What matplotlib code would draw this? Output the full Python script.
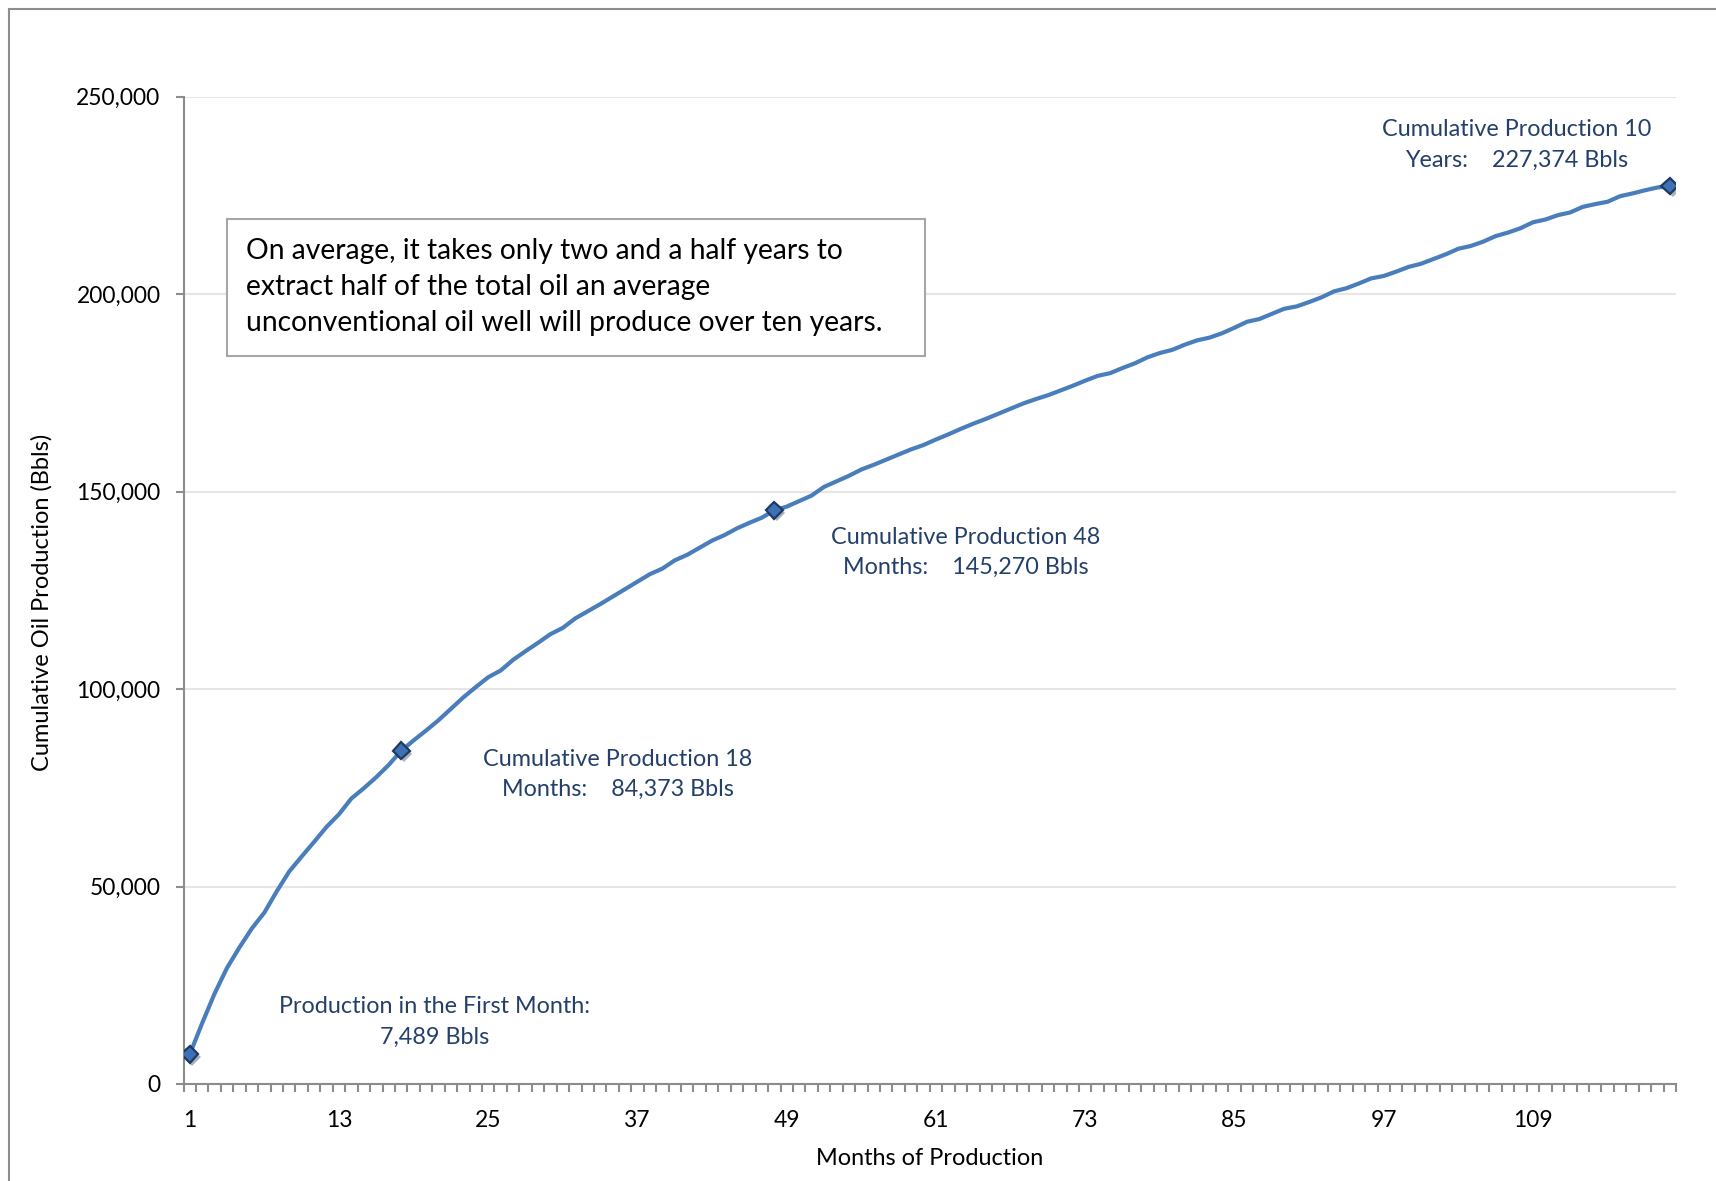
import numpy as np
import matplotlib
matplotlib.use("Agg")
import matplotlib.pyplot as plt
import matplotlib.patches as patches
import matplotlib.patheffects as pe
from matplotlib.ticker import FuncFormatter, FixedLocator

plt.rcParams['font.family'] = ['Lato', 'DejaVu Sans']

# Cumulative oil production of an average unconventional well, Bbls per month 1..120
months = np.arange(1, 121)
cumulative = [
    7489, 15400, 22900, 29400, 34600, 39400, 43400, 48800, 53800, 57600,
    61300, 65100, 68300, 72300, 74900, 77700, 80800, 84373, 87000, 89500,
    92100, 95000, 97900, 100500, 103000, 104700, 107400, 109600, 111700, 113900,
    115500, 117900, 119700, 121500, 123400, 125300, 127200, 129100, 130500, 132600,
    134000, 135800, 137600, 139000, 140700, 142100, 143400, 145270, 146200, 147600,
    149000, 151200, 152600, 154000, 155600, 156800, 158100, 159400, 160700, 161800,
    163200, 164500, 165900, 167200, 168400, 169700, 171000, 172300, 173400, 174400,
    175600, 176800, 178100, 179300, 180000, 181300, 182500, 184000, 185100, 185900,
    187200, 188300, 189000, 190100, 191500, 193000, 193700, 195000, 196300, 196900,
    198000, 199200, 200700, 201500, 202700, 204000, 204600, 205700, 206900, 207700,
    208900, 210100, 211500, 212200, 213300, 214700, 215600, 216700, 218200, 218900,
    220000, 220700, 222100, 222800, 223400, 224800, 225500, 226300, 227000, 227374,
]
marked_months = [1, 18, 48, 120]

y_ticks = [0, 50000, 100000, 150000, 200000, 250000]
x_label_months = [1, 13, 25, 37, 49, 61, 73, 85, 97, 109]

label_lines = [
    ("Production in the First Month:", "7,489 Bbls"),
    ("Cumulative Production 18", "Months:    84,373 Bbls"),
    ("Cumulative Production 48", "Months:    145,270 Bbls"),
    ("Cumulative Production 10", "Years:    227,374 Bbls"),
]
box_lines = [
    "On average, it takes only two and a half years to",
    "extract half of the total oil an average",
    "unconventional oil well will produce over ten years.",
]

W, H = 1716, 1181


def px(x, y):
    # pixel position in the reference -> figure fraction
    return x / W, 1 - y / H


fig = plt.figure(figsize=(W / 100, H / 100), dpi=100)
ax = fig.add_axes([183.5 / W, 1 - 1084 / H, (1676 - 183.5) / W, (1084 - 96.7) / H])

line_col = '#4a7ebb'
axis_col = '#8c8c8c'
text_col = '#24406a'

ax.plot(months, cumulative, color=line_col, lw=3.0, solid_joinstyle='round',
        solid_capstyle='round', zorder=3)
mk = [cumulative[m - 1] for m in marked_months]
ax.plot(marked_months, mk, ls='none', marker='D', ms=8.5, mfc='#3f6fb5',
        mec='#1c3a63', mew=1.6, zorder=4,
        path_effects=[pe.SimplePatchShadow(offset=(2, -2), alpha=0.35), pe.Normal()])

ax.set_xlim(0.5, 120.5)
ax.set_ylim(0, 250000)

# grid
ax.yaxis.grid(True, color='#e6e6e6', lw=1.5)
ax.set_axisbelow(True)

for s in ['top', 'right']:
    ax.spines[s].set_visible(False)
for s in ['left', 'bottom']:
    ax.spines[s].set_color(axis_col)
    ax.spines[s].set_linewidth(1.5)

ax.set_yticks(y_ticks)
ax.yaxis.set_major_formatter(FuncFormatter(lambda v, p: f"{v:,.0f}"))
ax.tick_params(axis='y', length=5.5, width=1.5, color=axis_col, pad=11,
               labelsize=16.4, labelcolor='black')

ax.xaxis.set_major_locator(FixedLocator(x_label_months))
ax.xaxis.set_minor_locator(FixedLocator(np.arange(0.5, 121, 1)))
ax.tick_params(axis='x', which='major', length=0, pad=18.5, labelsize=16.4,
               labelcolor='black')
ax.tick_params(axis='x', which='minor', length=5.5, width=1.5, color=axis_col,
               direction='out')

ax.set_xlabel("Months of Production", fontsize=16.9, labelpad=12.5)
ax.set_ylabel("Cumulative Oil Production (Bbls)", fontsize=17)
ax.yaxis.set_label_coords(-0.0874, 0.488)

# data labels next to the markers
label_pos = [(434.5, 1006.5), (618, 759), (966, 537), (1517, 130)]
for (l1, l2), (x, y) in zip(label_lines, label_pos):
    fig.text(*px(x, y), l1, ha='center', va='center', fontsize=16.8, color=text_col)
    fig.text(*px(x, y + 30.5), l2, ha='center', va='center', fontsize=16.8, color=text_col)

# text box
bx0, bx1, by0, by1 = 227, 925, 219, 356
fig.patches.append(patches.Rectangle(px(bx0, by1), (bx1 - bx0) / W, (by1 - by0) / H,
                                     transform=fig.transFigure, facecolor='white',
                                     edgecolor='#a6a6a6', lw=1.5, zorder=5))
for i, t in enumerate(box_lines):
    fig.text(*px(246, 251.5 + 36 * i), t, ha='left', va='center', fontsize=20.3,
             color='black', zorder=6)

# outer chart frame (cropped on the right and bottom)
fig.add_artist(plt.Line2D([9 / W, 9 / W], [-0.1, 1 - 9.3 / H], color=axis_col, lw=1.5,
                          transform=fig.transFigure))
fig.add_artist(plt.Line2D([9 / W, 1.1], [1 - 9.3 / H, 1 - 9.3 / H], color=axis_col, lw=1.5,
                          transform=fig.transFigure))

fig.savefig("out.png", dpi=100, facecolor='white')
